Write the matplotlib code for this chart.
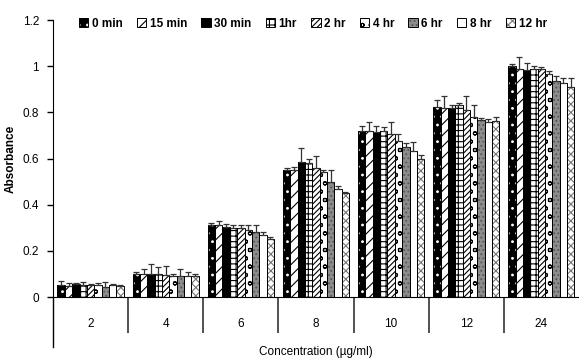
import matplotlib.pyplot as plt
import numpy as np
from matplotlib.legend_handler import HandlerTuple

plt.rcParams['font.family'] = ['Liberation Sans Narrow', 'Liberation Sans', 'DejaVu Sans']
plt.rcParams['hatch.linewidth'] = 0.8

concentrations = ['2', '4', '6', '8', '10', '12', '24']
series_names = ['0 min', '15 min', '30 min', '1hr', '2 hr', '4 hr', '6 hr', '8 hr', '12 hr']

# absorbance per series (rows) for each concentration (columns)
absorbance = [
    [0.052, 0.100, 0.310, 0.550, 0.720, 0.824, 1.000],
    [0.048, 0.100, 0.310, 0.550, 0.720, 0.820, 0.986],
    [0.055, 0.100, 0.305, 0.585, 0.713, 0.820, 0.983],
    [0.050, 0.100, 0.300, 0.580, 0.720, 0.830, 0.987],
    [0.050, 0.095, 0.300, 0.560, 0.707, 0.810, 0.987],
    [0.050, 0.090, 0.290, 0.540, 0.675, 0.780, 0.968],
    [0.045, 0.090, 0.280, 0.500, 0.648, 0.766, 0.936],
    [0.050, 0.090, 0.270, 0.470, 0.632, 0.760, 0.928],
    [0.048, 0.090, 0.250, 0.450, 0.596, 0.762, 0.910],
]
errors = [
    [0.017, 0.010, 0.010, 0.010, 0.020, 0.030, 0.010],
    [0.014, 0.020, 0.020, 0.015, 0.040, 0.050, 0.055],
    [0.006, 0.045, 0.010, 0.060, 0.030, 0.010, 0.030],
    [0.014, 0.030, 0.010, 0.020, 0.015, 0.010, 0.013],
    [0.005, 0.040, 0.010, 0.050, 0.050, 0.060, 0.010],
    [0.010, 0.010, 0.020, 0.010, 0.030, 0.050, 0.012],
    [0.020, 0.030, 0.030, 0.050, 0.020, 0.010, 0.020],
    [0.005, 0.020, 0.010, 0.010, 0.040, 0.010, 0.020],
    [0.005, 0.010, 0.010, 0.005, 0.020, 0.020, 0.040],
]

styles = [
    dict(facecolor='black', hatch='..', edgecolor='white'),
    dict(facecolor='white', hatch='///', edgecolor='black'),
    dict(facecolor='black', hatch='', edgecolor='black'),
    dict(facecolor='white', hatch='+++', edgecolor='black'),
    dict(facecolor='white', hatch='//////', edgecolor='black'),
    dict(facecolor='white', hatch='oo', edgecolor='black'),
    dict(facecolor='#8c8c8c', hatch='....', edgecolor='#555555'),
    dict(facecolor='white', hatch='', edgecolor='black'),
    dict(facecolor='white', hatch='xxxx', edgecolor='#777777'),
]

fig = plt.figure(figsize=(5.79, 3.59), dpi=100)
ax = fig.add_axes([0.0915, 0.1727, 0.9085, 0.7713])

x = np.arange(len(concentrations)) + 0.5
n = len(series_names)
w = 0.88 / n
handles = []
for i, name in enumerate(series_names):
    pos = x - 0.44 + w * (i + 0.5)
    st = styles[i]
    b = ax.bar(pos, absorbance[i], w, color=st['facecolor'], hatch=st['hatch'],
               edgecolor=st['edgecolor'], linewidth=0, zorder=2)
    # black outline drawn separately so hatch colour can differ
    o = ax.bar(pos, absorbance[i], w, fill=False, edgecolor='black', linewidth=0.7, zorder=3)
    ax.errorbar(pos, absorbance[i], yerr=[np.zeros(7), errors[i]], fmt='none',
                ecolor='#333333', elinewidth=0.9, capsize=2.5, capthick=0.9, zorder=4)
    handles.append((b, o))

ax.set_xlim(0, 7)
ax.set_ylim(0, 1.2)
ax.set_yticks([0, 0.2, 0.4, 0.6, 0.8, 1.0, 1.2])
ax.set_yticklabels(['0', '0.2', '0.4', '0.6', '0.8', '1', '1.2'], fontsize=8.5)
ax.set_xticks(x)
ax.set_xticklabels(concentrations, fontsize=8.5)
ax.tick_params(axis='x', which='major', length=0, pad=15)
ax.set_xticks(np.arange(1, 7), minor=True)
ax.tick_params(axis='x', which='minor', length=26, width=1.2, color='#333333')
ax.tick_params(axis='y', length=4, width=1, pad=6)
ax.spines['top'].set_visible(False)
ax.spines['right'].set_visible(False)
ax.plot([0, 0], [0, -0.18], transform=ax.transAxes, color='black', lw=1, clip_on=False)

ax.set_xlabel('Concentration (\u00b5g/ml)', fontsize=8.5, labelpad=6)
ax.set_ylabel('Absorbance', fontsize=8.5, fontweight='bold', labelpad=4)

ax.legend(handles=handles, labels=series_names, ncol=9, loc='upper left',
          bbox_to_anchor=(0.04, 1.025), frameon=False,
          prop={'weight': 'bold', 'size': 8.5},
          handler_map={tuple: HandlerTuple(ndivide=1)},
          handlelength=0.8, handleheight=0.8, handletextpad=0.3, columnspacing=1.2,
          borderaxespad=0)

fig.savefig('out.png', dpi=100)
